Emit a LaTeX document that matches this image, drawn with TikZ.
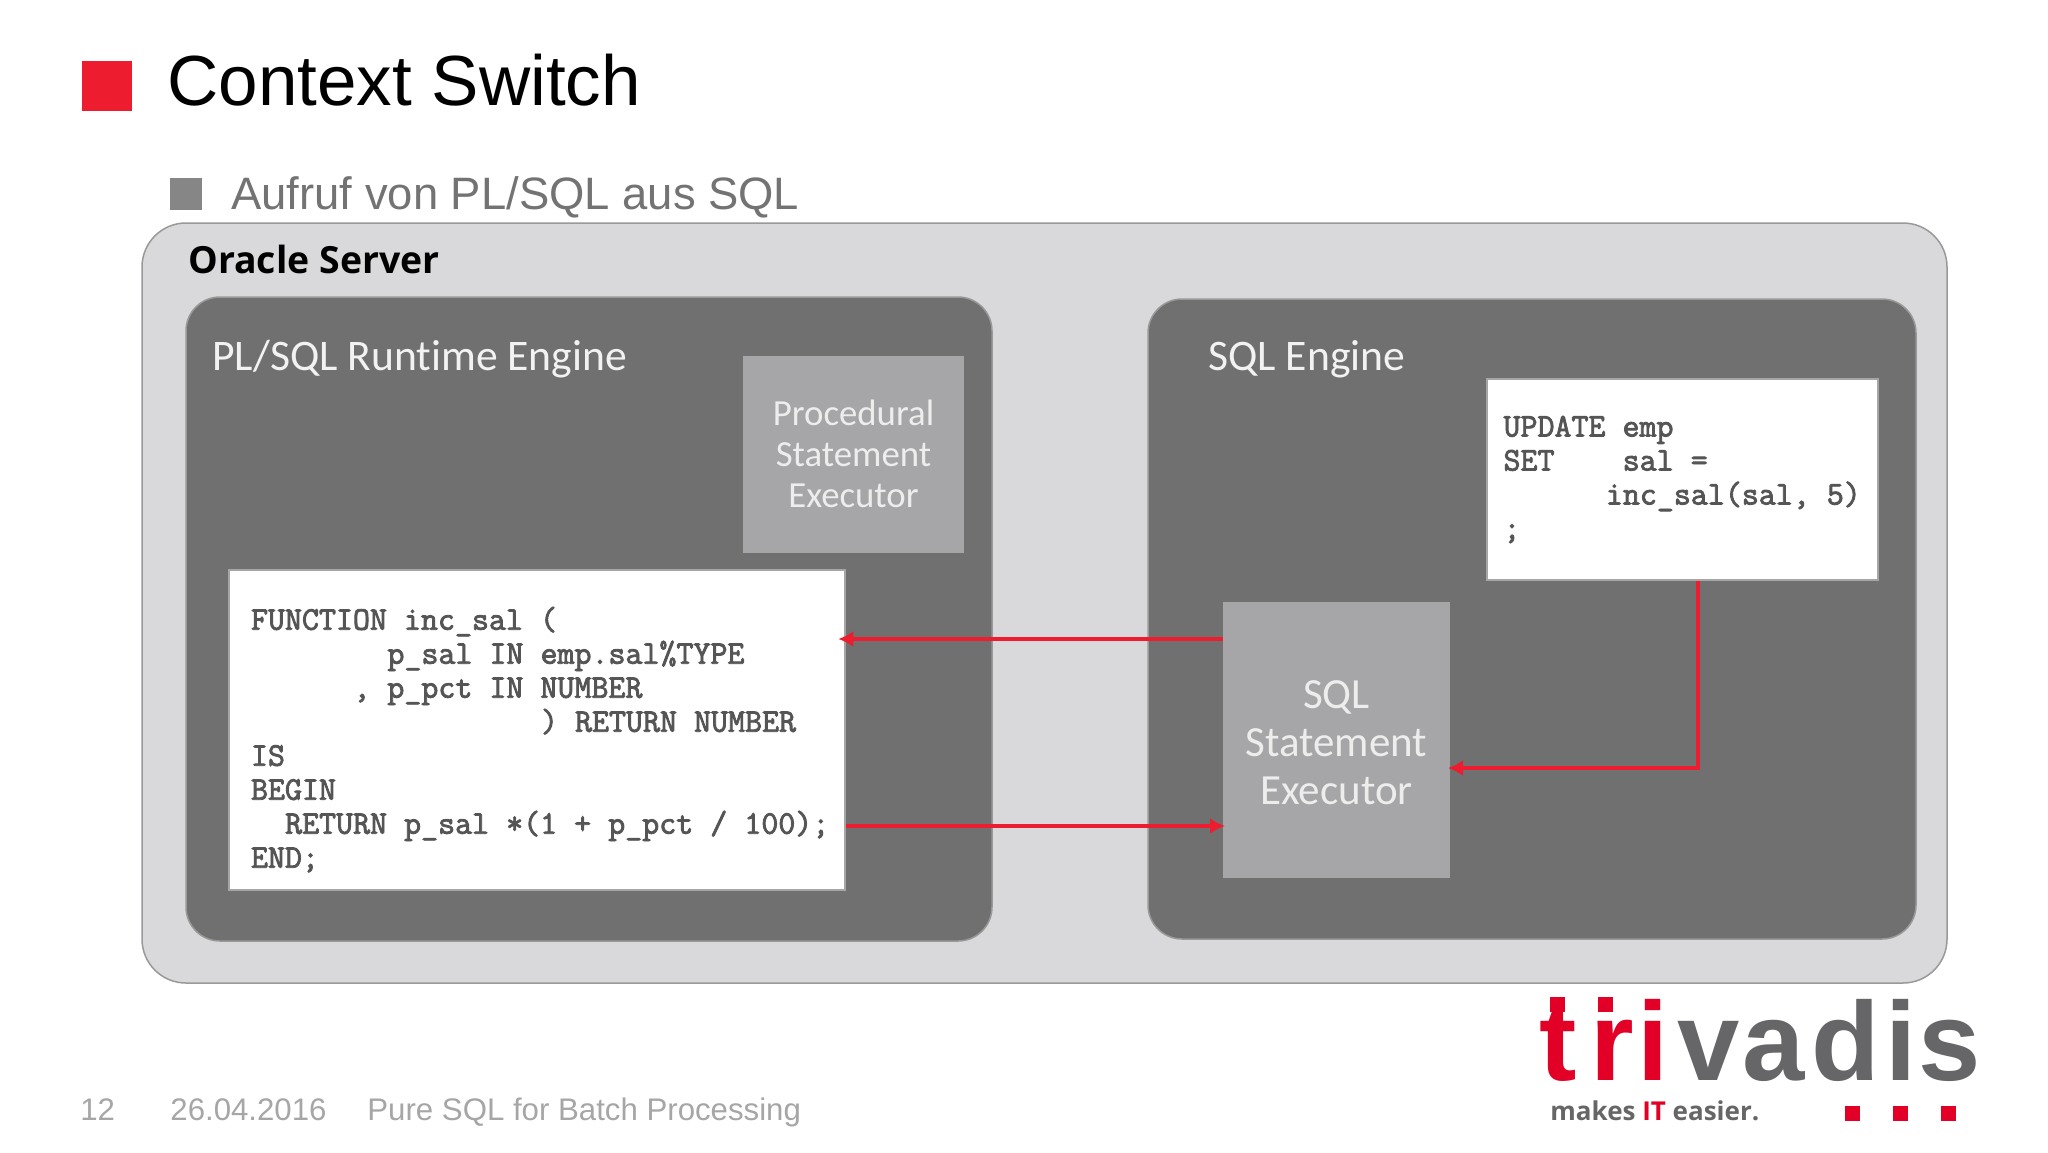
\documentclass[tikz,border=0pt]{standalone}
\usepackage{fontspec}
\usetikzlibrary{arrows.meta}
\setmainfont{Liberation Sans}
\newfontfamily\enginefont[Ligatures=NoCommon]{Carlito}
\newfontfamily\boldfont{Open Sans}
\newfontfamily\codefont[FakeBold=2.5]{Latin Modern Mono}
\newlength{\du}
\setlength{\du}{0.5pt}
\newcommand{\codesetup}[1]{\leftskip=#1\relax\spaceskip=8.53pt\relax\xspaceskip=8.53pt\relax}
\definecolor{trivred}{RGB}{237,28,46}
\definecolor{logored}{RGB}{226,0,38}
\definecolor{logogrey}{RGB}{102,102,104}
\definecolor{servercolor}{RGB}{217,217,219}
\definecolor{enginecolor}{RGB}{112,112,112}
\definecolor{execcolor}{RGB}{166,166,168}
\definecolor{codecolor}{RGB}{85,85,85}
\tikzset{
  servershape/.style={draw=gray!80,line width=1.5\du,fill=servercolor,rounded corners=44\du,inner sep=0pt},
  engineshape/.style={draw=gray!80,line width=1.5\du,fill=enginecolor,rounded corners=34\du,inner sep=0pt},
  execshape/.style={draw=gray!70!white,line width=2\du,fill=execcolor,inner sep=0pt,align=center,text=white!93!black},
  codeshape/.style={draw=gray!70!white,line width=2.5\du,fill=white,inner sep=0pt,align=left,text=codecolor,anchor=center,
    font=\codefont\fontsize{16.5pt}{17pt}\selectfont},
  flowline/.style={draw=trivred,line width=4.5\du,-{Latex[length=7.5pt,width=8pt]}},
  enginelabel/.style={anchor=base west,inner sep=0pt,text=white!95!black,font=\enginefont\fontsize{21.8pt}{25pt}\selectfont},
  footlabel/.style={anchor=base west,inner sep=0pt,text=gray!70,font=\fontsize{15.6pt}{20pt}\selectfont},
  redsquare/.style={fill=logored,inner sep=0pt,minimum width=15\du,minimum height=15\du},
}
\begin{document}
\begin{tikzpicture}[x=1\du,y=-1\du]
\useasboundingbox (0,0) rectangle (2048,1152);
\fill[white] (0,0) rectangle (2048,1152);
% title
\node[fill=trivred,inner sep=0pt,minimum width=50\du,minimum height=50\du] (titlemark) at (107,86) {};
\node[anchor=base west,inner sep=0pt,font=\fontsize{35.5pt}{40pt}\selectfont] (titletext) at (167,105) {Context Switch};
\node[fill=gray!95,inner sep=0pt,minimum width=32\du,minimum height=32\du] (submark) at (186,194) {};
\node[anchor=base west,inner sep=0pt,text=gray!90!black,font=\fontsize{22.7pt}{28pt}\selectfont] (subtext) at (231,209) {Aufruf von PL/SQL aus SQL};
% boxes
\node[servershape,minimum width=1805\du,minimum height=760\du] (server) at (1044.5,603) {};
\node[anchor=base west,inner sep=0pt,font=\boldfont\bfseries\fontsize{18.7pt}{22pt}\selectfont] (serverlabel) at (188,273) {Oracle Server};
\node[engineshape,minimum width=806\du,minimum height=644\du] (plsqlengine) at (589,619) {};
\node[engineshape,minimum width=768\du,minimum height=640\du] (sqlengine) at (1532,619) {};
\node[enginelabel] (plsqllabel) at (212,370) {PL/SQL Runtime Engine};
\node[enginelabel] (sqllabel) at (1208,370) {SQL Engine};
\node[execshape,minimum width=219\du,minimum height=195\du,font=\enginefont\fontsize{18.4pt}{20.6pt}\selectfont] (procexec) at (853.5,454)
  {Procedural\\Statement\\Executor};
\node[execshape,minimum width=225\du,minimum height=274\du,font=\enginefont\fontsize{21.5pt}{23.9pt}\selectfont] (sqlexec) at (1336.5,740)
  {\rule{0pt}{16.6pt}SQL\\Statement\\Executor};
\node[codeshape,minimum width=616\du,minimum height=320\du,text width=608\du] (funcbox) at (537,730)
  {\codesetup{9pt}~\\[4pt]FUNCTION inc\_sal (\\
   ~~~~~~~~p\_sal IN emp.sal\%TYPE\\
   ~~~~~~, p\_pct IN NUMBER\\
   ~~~~~~~~~~~~~~~~~) RETURN NUMBER\\
   IS\\
   BEGIN\\
   ~~RETURN p\_sal *(1 + p\_pct / 100);\\
   END;\par};
\node[codeshape,minimum width=391\du,minimum height=201\du,text width=380\du] (updatebox) at (1682.5,479.5)
  {\codesetup{5.5pt}~\\[8pt]UPDATE emp\\
   SET~~~~sal =\\
   ~~~~~~inc\_sal(sal, 5)\\
   ;\\~\par};
% connectors
\draw[flowline,shorten >=-4pt] ([yshift=50.5pt]sqlexec.west) -- ([yshift=45.5pt]funcbox.east);
\draw[flowline,shorten >=-1pt] ([yshift=-48pt]funcbox.east) -- ([yshift=-43pt]sqlexec.west);
\draw[flowline,shorten >=-1pt] ([xshift=7.75pt]updatebox.south) |- ([yshift=-14pt]sqlexec.east);
% footer
\node[footlabel] (pagenum) at (80,1120) {12};
\node[footlabel] (datetext) at (170,1120) {26.04.2016};
\node[footlabel] (foottext) at (367,1120) {Pure SQL for Batch Processing};
% logo
\node[anchor=base west,inner sep=0pt,font=\bfseries\fontsize{56pt}{60pt}\selectfont] (logotext) at (1539,1080)
  {\textcolor{logored}{t\kern7pt r\kern1.9pt i}\kern4pt\textcolor{logogrey}{v\kern1.3pt a\kern3.5pt d\kern3pt i\kern1pt s}};
\node[redsquare] (logodota) at (1557.5,1004.5) {};
\node[redsquare] (logodotb) at (1605.5,1004.5) {};
\node[anchor=base west,inner sep=0pt,text=logogrey,font=\boldfont\bfseries\fontsize{13pt}{16pt}\selectfont] (logotag) at (1550,1120)
  {makes \textcolor{logored}{IT} easier.};
\node[redsquare] (logodotc) at (1852.5,1113) {};
\node[redsquare] (logodotd) at (1900.5,1113) {};
\node[redsquare] (logodote) at (1948.5,1113) {};
\end{tikzpicture}
\end{document}
